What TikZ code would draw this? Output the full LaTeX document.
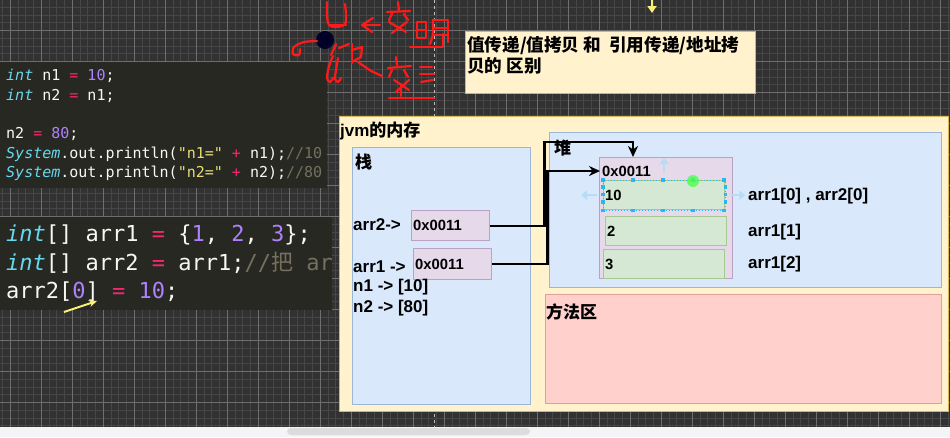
\documentclass[tikz,border=0pt]{standalone}
\usepackage{fontspec}
\setmainfont{Liberation Sans}
\setmonofont{DejaVu Sans Mono}
\newfontfamily\cjk{Noto Sans CJK SC}
\usetikzlibrary{arrows.meta,positioning,calc}

\definecolor{canvas}{HTML}{323232}
\definecolor{gridminor}{HTML}{474747}
\definecolor{gridmajor}{HTML}{6E6E6E}
\definecolor{codebg}{HTML}{272822}
\definecolor{mkwhite}{HTML}{F8F8F2}
\definecolor{mkcyan}{HTML}{66D9EF}
\definecolor{mkpink}{HTML}{F92672}
\definecolor{mkpurple}{HTML}{AE81FF}
\definecolor{mkyellow}{HTML}{E6DB74}
\definecolor{mkgrey}{HTML}{75715E}
\definecolor{noteFill}{HTML}{FFF2CC}
\definecolor{noteLine}{HTML}{D6B656}
\definecolor{blueFill}{HTML}{DAE8FC}
\definecolor{blueLine}{HTML}{9CB6D9}
\definecolor{redFill}{HTML}{FFD0CC}
\definecolor{redLine}{HTML}{E0A09A}
\definecolor{purpleFill}{HTML}{E6D9EA}
\definecolor{purpleLine}{HTML}{B9A2C4}
\definecolor{greenFill}{HTML}{D5E8D4}
\definecolor{greenLine}{HTML}{A6C98F}
\definecolor{selBlue}{HTML}{29B6F2}
\definecolor{ghostBlue}{HTML}{B5DDF6}
\definecolor{inkRed}{HTML}{FF1A1A}
\definecolor{hintYellow}{HTML}{F7EF7A}
\definecolor{barGrey}{HTML}{F3F4F6}
\definecolor{thumbGrey}{HTML}{DCDCDC}

\newcommand\codekw[1]{\textcolor{mkcyan}{\itshape #1}}
\newcommand\codeop[1]{\textcolor{mkpink}{#1}}
\newcommand\codenum[1]{\textcolor{mkpurple}{#1}}
\newcommand\codestr[1]{\textcolor{mkyellow}{#1}}
\newcommand\codecmt[1]{\textcolor{mkgrey}{#1}}

\begin{document}
\begin{tikzpicture}[x=1pt,y=-1pt,
  area/.style={anchor=north west,inner sep=0pt,line width=1.4pt},
  txt/.style={anchor=west,inner sep=1pt,text=black,font=\fontsize{17}{20}\selectfont\bfseries},
  val/.style={anchor=west,inner sep=2pt,text=black,font=\fontsize{14.8}{17}\selectfont\bfseries},
  code/.style={anchor=west,inner sep=0pt,text=mkwhite,font=\ttfamily\fontsize{15}{17}\selectfont},
  bigcode/.style={code,font=\ttfamily\fontsize{22}{26}\selectfont},
  link/.style={line width=2.2pt,-{Stealth[length=11pt,width=10pt]}},
  ink/.style={inkRed,line width=2.2pt,line cap=round,line join=round}]

\useasboundingbox (0,0) rectangle (950,437);

% Canvas and grid
\fill[canvas] (0,0) rectangle (950,437);
\foreach \gx in {2.55,10.3,...,950} \draw[gridminor,line width=1pt] (\gx,0) -- (\gx,427);
\foreach \gy in {7.45,15.2,...,427} \draw[gridminor,line width=1pt] (0,\gy) -- (950,\gy);
\foreach \gx in {10.3,41.3,...,950} \draw[gridmajor,line width=1.3pt] (\gx,0) -- (\gx,427);
\foreach \gy in {30.7,61.7,...,427} \draw[gridmajor,line width=1.3pt] (0,\gy) -- (950,\gy);
\draw[white!75!black,line width=0.8pt,dash pattern=on 3pt off 3pt] (434,0) -- (434,427);

% Scroll bar
\fill[barGrey] (0,427) rectangle (950,437);
\fill[thumbGrey,rounded corners=4pt] (287,428) rectangle (530,435);

% Code, primitive values
\fill[codebg] (0,62) rectangle (327,188);
\node[code] (lineA) at (6,76) {\codekw{int} n1 \codeop{=} \codenum{10};};
\node[code] (lineB) at (6,96) {\codekw{int} n2 \codeop{=} n1;};
\node[code] (lineC) at (6,134) {n2 \codeop{=} \codenum{80};};
\node[code] (lineD) at (6,154) {\codekw{System}.out.println(\codestr{"n1="} \codeop{+} n1);\codecmt{//10}};
\node[code] (lineE) at (6,173) {\codekw{System}.out.println(\codestr{"n2="} \codeop{+} n2);\codecmt{//80}};

% Code, arrays
\begin{scope}
\clip (0,217) rectangle (332,310);
\fill[codebg] (0,217) rectangle (332,310);
\node[bigcode] (lineF) at (6,235) {\codekw{int}[] arr1 \codeop{=} \{\codenum{1}, \codenum{2}, \codenum{3}\};};
\node[bigcode] (lineG) at (6,263) {\codekw{int}[] arr2 \codeop{=} arr1;\codecmt{//{\cjk 把} arr1}};
\node[bigcode] (lineH) at (6,292) {arr2[\codenum{0}] \codeop{=} \codenum{10};};
\end{scope}
\coordinate (hintStart) at (64,312);
\coordinate (hintEnd) at (97,301);
\draw[hintYellow,line width=2pt,-{Stealth[length=8pt,width=7pt]}] (hintStart) -- (hintEnd);

% Pointer from the top
\coordinate (dropTop) at (652,0);
\coordinate (dropTip) at (652,13);
\draw[hintYellow,line width=2pt,-{Triangle[length=7pt,width=9pt]}] (dropTop) -- (dropTip);

% Note
\node[area,fill=noteFill,draw=noteLine,minimum width=290,minimum height=62] (note) at (465,31) {};
\node[anchor=north west,inner sep=0pt,align=left,text=black,
      font=\cjk\bfseries\fontsize{17.6}{21}\selectfont] (noteTxt) at (467,36)
{值传递/值拷贝 和\ \ 引用传递/地址拷\\贝的 区别};

% JVM memory
\node[area,fill=noteFill,draw=noteLine,minimum width=609,minimum height=295] (jvm) at (339,116) {};
\node[txt] (jvmTxt) at (339,131) {jvm{\cjk 的内存}};

\node[area,fill=blueFill,draw=blueLine,minimum width=178,minimum height=257] (stack) at (352,147) {};
\node[txt] (stackTxt) at (354,162) {\cjk 栈};
\node[area,fill=blueFill,draw=blueLine,minimum width=392,minimum height=155] (heap) at (549,132) {};
\node[txt] (heapTxt) at (553,148) {\cjk 堆};
\node[area,fill=redFill,draw=redLine,minimum width=396,minimum height=109] (method) at (545,294) {};
\node[txt] (methodTxt) at (545,312) {\cjk 方法区};

% Stack entries
\node[txt] (arrTwoTxt) at (352,225) {arr2->};
\node[area,fill=purpleFill,draw=purpleLine,minimum width=78,minimum height=30] (ptrTwo) at (411,210) {};
\node[val] (ptrTwoTxt) at (ptrTwo.west) {0x0011};
\node[txt] (arrOneTxt) at (352,267) {arr1 ->};
\node[area,fill=purpleFill,draw=purpleLine,minimum width=78,minimum height=31] (ptrOne) at (413,248) {};
\node[val] (ptrOneTxt) at (ptrOne.west) {0x0011};
\node[txt] (nOneTxt) at (352,287) {n1 -> [10]};
\node[txt] (nTwoTxt) at (352,308) {n2 -> [80]};

% Array in the heap
\node[area,fill=purpleFill,draw=purpleLine,minimum width=133,minimum height=121] (arrbox) at (599,157) {};
\node[val] (headTxt) at (600,171) {0x0011};
\node[area,fill=greenFill,draw=greenLine,minimum width=121,minimum height=29] (cellA) at (603,180) {};
\node[area,fill=greenFill,draw=greenLine,minimum width=121,minimum height=29] (cellB) at (605,216) {};
\node[area,fill=greenFill,draw=greenLine,minimum width=121,minimum height=29] (cellC) at (603,249) {};
\node[val] (cellATxt) at (cellA.west) {10};
\node[val] (cellBTxt) at (cellB.west) {2};
\node[val] (cellCTxt) at (cellC.west) {3};
\node[txt] (idxA) at (747,196) {arr1[0] , arr2[0]};
\node[txt] (idxB) at (747,232) {arr1[1]};
\node[txt] (idxC) at (747,264) {arr1[2]};

% Selection marks on the first cell
\draw[selBlue,dotted,line width=1pt] (cellA.north west) rectangle (cellA.south east);
\foreach \hx in {0,30,60,90,121}
{
  \fill[selBlue] ($(cellA.north west)+(\hx,0)+(-1.8,-1.8)$) rectangle ++(3.6,3.6);
  \fill[selBlue] ($(cellA.south west)+(\hx,0)+(-1.8,-1.8)$) rectangle ++(3.6,3.6);
}
\foreach \hy in {7,14.5,22}
{
  \fill[selBlue] ($(cellA.north west)+(0,\hy)+(-1.8,-1.8)$) rectangle ++(3.6,3.6);
  \fill[selBlue] ($(cellA.north east)+(0,\hy)+(-1.8,-1.8)$) rectangle ++(3.6,3.6);
}
\draw[ghostBlue,line width=2.5pt,-{Triangle[length=6pt,width=9pt]}] ($(cellA.west)+(-6,0)$) -- ++(-16,0);
\draw[ghostBlue,line width=2.5pt,-{Triangle[length=6pt,width=9pt]}] ($(cellA.east)+(6,0)$) -- ++(14,0);
\draw[ghostBlue,line width=2.5pt,-{Triangle[length=6pt,width=9pt]}] ($(cellA.north)+(0,-8)$) -- ++(0,-14);
\fill[green!70!white,opacity=0.8] ($(cellA.north west)+(90,1)$) circle (6);

% Links from the stack to the heap
\draw[link] (ptrTwo.east) -- ++(54,0) |- ($(arrbox.north west)+(34,-15)$) -- ($(arrbox.north west)+(34,0)$);
\draw[link] (ptrOne.east) -- ++(55,0) |- (headTxt.west);

% Handwriting
\fill[black!60!blue!40!black] (325,40) circle (9);
\draw[black,line width=1pt] (327,32) -- (327,48);
\draw[ink] plot[smooth] coordinates {(327,2) (327,15) (329,25) (337,27) (345,24) (346,14) (345,4)};
\draw[ink] (329,25) -- (346,25);
\draw[ink] (373,18) -- (362,25) -- (372,32);
\draw[ink] (364,25) -- (380,25);
\draw[ink] (398,2) -- (399,10);
\draw[ink] (387,12) -- (410,11);
\draw[ink] (392,14) -- (389,20);
\draw[ink] (404,14) -- (408,20);
\draw[ink] (389,22) -- (406,32);
\draw[ink] (407,22) -- (392,33);
\draw[ink] (417,22) -- (417,38) -- (426,38) -- (426,22) -- cycle;
\draw[ink] (417,30) -- (426,30);
\draw[ink] plot[smooth] coordinates {(433,20) (433,34) (430,44)};
\draw[ink] (433,20) -- (448,20) -- (448,42);
\draw[ink] (433,28) -- (447,28);
\draw[ink] (433,35) -- (447,35);
\draw[ink] (410,47) -- (443,47) -- (443,34);
\draw[ink] plot[smooth] coordinates {(317,41) (304,42) (294,47) (293,54) (299,55) (300,49)};
\draw[ink] (336,44) -- (331,55);
\draw[ink] (339,48) -- (349,44);
\draw[ink] plot[smooth] coordinates {(333,56) (329,66) (327,78) (330,82) (333,78)};
\draw[ink] plot[smooth] coordinates {(338,58) (336,70) (335,79) (338,82) (341,78)};
\draw[ink] (352,44) -- (352,63);
\draw[ink] (352,50) -- (362,47) -- (361,57) -- (352,62);
\draw[ink] (358,62) -- (371,71) -- (382,76);
\draw[ink] (396,57) -- (397,65);
\draw[ink] (388,68) -- (411,66);
\draw[ink] (392,70) -- (389,77);
\draw[ink] (404,70) -- (408,77);
\draw[ink] (394,80) -- (409,90);
\draw[ink] (409,80) -- (396,92);
\draw[ink] (401,84) -- (401,96);
\draw[ink] (420,67) -- (432,67);
\draw[ink] (420,74) -- (434,74);
\draw[ink] (421,82) -- (433,80);
\draw[ink] (389,98) -- (434,98);

\end{tikzpicture}
\end{document}
